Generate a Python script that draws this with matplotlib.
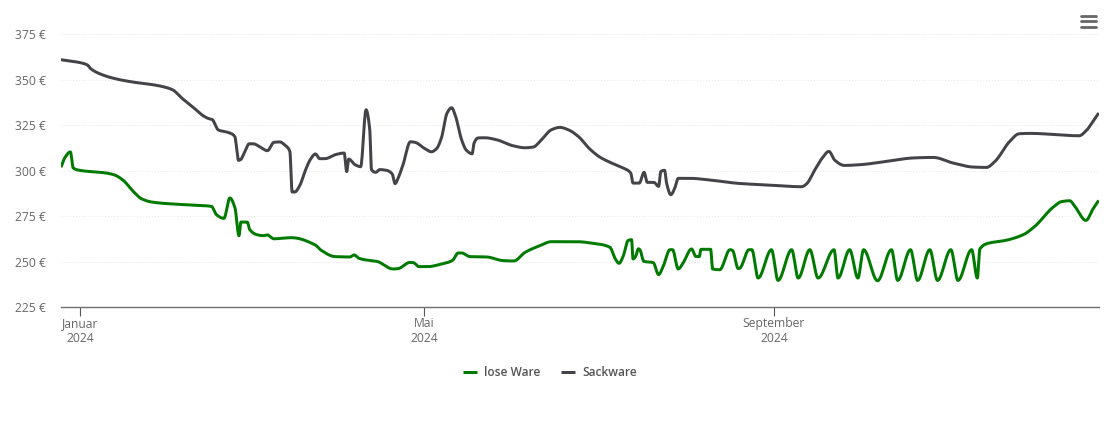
import numpy as np
import matplotlib
matplotlib.use("Agg")
import matplotlib.pyplot as plt
from matplotlib.lines import Line2D

# days since 1 Jan 2024, price in EUR
sack_days = [-6.9,-1.9,2.5,3.6,7.9,12.7,18.5,26.8,32.4,35.6,39.7,43.2,45,46.5,47.3,48.5,51.4,53.2,54.4,54.9,55.6,56.3,57.9,59.4,60.8,63.1,65.8,68.1,70.2,71.9,73.7,74.5,75.4,77.2,79,81,82.7,84.2,86,90.1,92.8,93.7,94.4,96.6,98.6,100.5,101.8,102.4,103.9,105.3,107.7,109.7,110.7,111.8,113.5,116.1,117.7,121.2,123.5,125.3,127,129,130.6,132,134.1,135.8,137.8,138.5,139.9,142.3,146.4,152.2,156.4,159.3,162.2,165.7,168.7,171.6,175.1,179.2,182.7,186.3,190.9,193.6,194.4,196.6,198.3,199.4,201.7,203.4,204.2,205.5,206.2,207.7,209.1,210.3,214.4,221.4,231.7,242.5,253.7,255.4,258.4,260.7,263.3,265.4,268.7,274.2,283.6,292.9,300,307,314,318.7,321.7,326.9,330.2,334,351.3,353.9,356.2,358.2]
sack_price = [361,359.9,358.1,356.1,352.6,350.4,348.7,346.9,344.5,340,334.8,330.2,328.7,328,325.8,322.4,321.3,320.3,318.5,313.4,305.7,306,310.6,314.8,314.8,313.2,311,315.6,315.8,314.1,310.6,288.3,288.3,291.9,299.6,306.4,309.2,306.6,306.6,309,309.7,299.5,306.4,303.3,302.2,333.5,322.5,300.6,299.1,300.6,300.2,298.2,292.9,296,303.3,315.9,315.6,312.1,310.4,312.1,318,331.7,334.6,329.8,317,311.2,309.3,315.2,318,318.1,317,313.7,312.6,313,317,322.5,323.8,322.5,318.9,311.9,307.5,304.6,301.5,298.7,293.2,293.2,299.1,293.6,293.6,291.4,299.6,300.2,293.2,286.8,290.5,295.8,295.8,294.9,293,292.1,291.2,292.7,300.6,306.4,310.6,305.7,302.9,303.3,305.1,307,307.3,304.2,302,301.8,305.1,316.1,320.3,320.5,319.2,322.2,327.1,331.7]

lose_days = [-6.9,-5.5,-3.5,-2.5,-0.2,9.2,12.1,15.1,18.6,21.5,25,32.6,42,46.1,47.9,50.5,52.6,54.4,55.8,56.5,58.7,59.6,62.2,64.3,65.7,68.1,74.3,82.5,84.8,89.5,94.8,96.3,98.1,101.6,104.2,110,111.8,115.9,117.1,119.1,122.3,126.5,130.9,132.9,134.1,137,142.9,148.7,152.5,156.4,161.6,165.7,174.5,180.4,186.3,188,189.5,190.9,192.7,193.9,194.4,195.3,196.3,196.8,198.2,201.5,203.4,205,207.4,208.3,210.3,212,215,216.5,217.7,218.3,221.7,222.4,224.9,228.5,229.4,231.4,232,235.2,236.2,238.4,243.1,245.4,250.2,252.5,256.6,259.5,265.1,266.5,270.6,273.5,275.5,280.4,285.3,287.5,292,294.5,298.8,301.5,306.2,308.7,313.5,315.5,316.4,319.8,324.5,331.6,335.7,342.2,345.1,348,349.8,353.7,356.2,358.2]
lose_price = [301.5,307,310.3,301.5,300.2,298.7,297.6,294.7,288.6,284.6,282.8,281.7,280.9,280.4,275.8,273.8,285,279.5,264.3,271.8,271.8,267.6,264.8,264.3,264.7,262.6,263.2,259.3,256.2,252.8,252.6,253.7,251.8,250.7,250.2,246,246.2,249.6,249.5,247.3,247.3,248.5,250.7,254.8,254.8,252.8,252.6,250.6,250.4,255.1,258.8,261,261,260.1,257.9,252,249.1,252.9,261.7,262.1,251.5,252.9,257.1,256.6,250.2,249.5,242.9,247.4,256.6,256.6,246,249.3,257,252.9,252.8,256.8,256.8,246,245.6,256.6,256.2,246.2,246.5,256.6,256.6,241,256.6,239.7,256.6,241,256.6,241,256.6,241,256.6,241,256.6,239.5,256.6,239.7,256.6,239.7,256.6,239.7,256.6,239.7,256.6,241,257,260.3,261.4,264.8,269.4,280,283,283.5,280.4,272.7,279,283.7]

y_ticks = [225, 250, 275, 300, 325, 350, 375]
x_tick_days = [0, 121, 244]
x_tick_labels = ["Januar\n2024", "Mai\n2024", "September\n2024"]
series_names = ["lose Ware", "Sackware"]
GREEN, GREY = "#007a00", "#434348"
W, H = 1110, 422

plt.rcParams["font.family"] = ["Open Sans", "DejaVu Sans"]


def spline(x, y, n=14):
    """Shape-preserving cubic path through the points (no overshoot)."""
    x, y = np.asarray(x, float), np.asarray(y, float)
    h = np.diff(x)
    d = np.diff(y) / h
    m = np.zeros_like(y)
    for i in range(1, len(x) - 1):
        if d[i-1] * d[i] > 0:
            w1, w2 = 2*h[i] + h[i-1], h[i] + 2*h[i-1]
            m[i] = (w1 + w2) / (w1/d[i-1] + w2/d[i])
    m[0], m[-1] = d[0], d[-1]
    t = np.linspace(0, 1, n, endpoint=False)
    xs, ys = [], []
    for i in range(len(x) - 1):
        h00 = 2*t**3 - 3*t**2 + 1
        h10 = t**3 - 2*t**2 + t
        h01 = -2*t**3 + 3*t**2
        h11 = t**3 - t**2
        xs.append(x[i] + t*h[i])
        ys.append(h00*y[i] + h10*h[i]*m[i] + h01*y[i+1] + h11*h[i]*m[i+1])
    xs.append(x[-1:]); ys.append(y[-1:])
    return np.concatenate(xs), np.concatenate(ys)


fig = plt.figure(figsize=(W/100, H/100), dpi=100)
ax = fig.add_axes([61/W, 1-307.2/H, (1099-61)/W, (307.2-34.2)/H])
ax.set_xlim(-6.8, 358.3)
ax.set_ylim(225, 375)

for xs, ys, color, name in [(lose_days, lose_price, GREEN, series_names[0]),
                            (sack_days, sack_price, GREY, series_names[1])]:
    sx, sy = spline(xs, ys)
    ax.plot(sx, sy, color=color, lw=2.15, label=name, solid_joinstyle="round", solid_capstyle="butt", zorder=3)

ax.yaxis.grid(True, color="#e6e6e6", lw=0.7, ls=(0, (1, 2)))
ax.set_axisbelow(True)
for s in ["top", "right", "left"]:
    ax.spines[s].set_visible(False)
ax.spines["bottom"].set_color("#6f6f6f")
ax.spines["bottom"].set_linewidth(1.0)
ax.set_yticks(y_ticks)
ax.set_yticklabels([f"{v} €" for v in y_ticks], fontsize=8.7, color="#666666")
ax.tick_params(axis="y", length=0, pad=11)
ax.set_xticks(x_tick_days)
ax.set_xticklabels(x_tick_labels, fontsize=8.7, color="#666666", linespacing=1.2)
ax.tick_params(axis="x", length=6.3, width=0.8, color="#555555", pad=0.5)

leg = ax.legend(loc="center", bbox_to_anchor=(550/W, 1-373/H), bbox_transform=fig.transFigure,
                ncol=2, frameon=False, handlelength=1.17, handletextpad=0.58, columnspacing=1.75,
                prop={"size": 8.6, "weight": "semibold", "family": "Open Sans"})
for t in leg.get_texts():
    t.set_color("#555555")

for yy in [15.8, 21.3, 26.7]:
    fig.add_artist(Line2D([1080.5/W, 1095.5/W], [1-yy/H, 1-yy/H], color="#666666", lw=2.0, solid_capstyle="round"))

fig.savefig("out.png", dpi=100)
